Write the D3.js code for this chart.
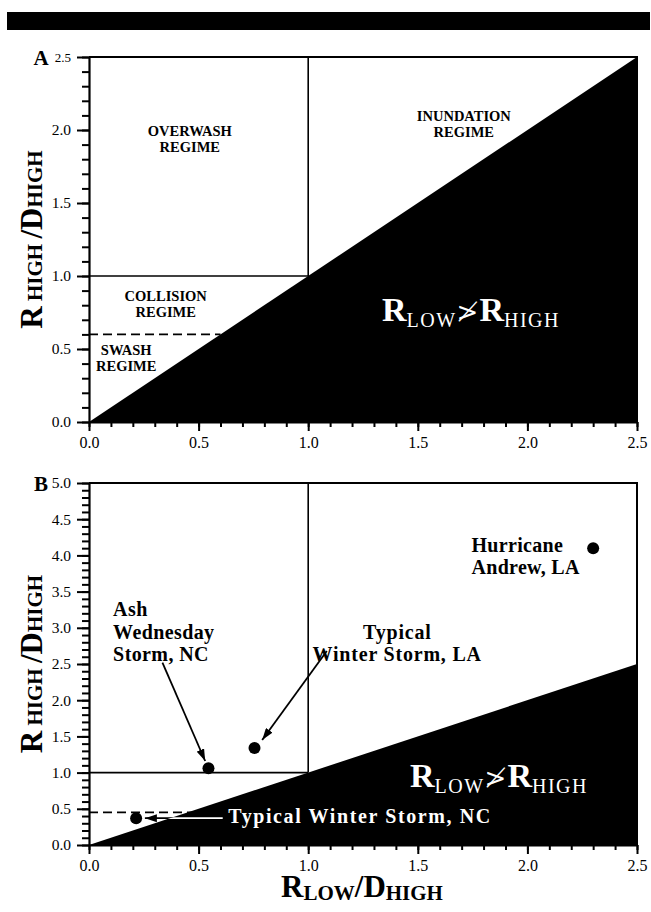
<!DOCTYPE html>
<html><head><meta charset="utf-8">
<script src="https://cdn.jsdelivr.net/npm/d3@7"></script>
<style>body{margin:0;background:#fff} svg{display:block} text{font-family:"Liberation Serif","Times New Roman",serif}</style>
</head><body><svg id="c" width="651" height="912"></svg>
<script>
// ---------- data ----------
const xTickValues = [0.0, 0.5, 1.0, 1.5, 2.0, 2.5];
const yTickValuesA = [0.0, 0.5, 1.0, 1.5, 2.0, 2.5];
const yTickValuesB = [0.0, 0.5, 1.0, 1.5, 2.0, 2.5, 3.0, 3.5, 4.0, 4.5, 5.0];
const xDomain = [0, 2.5];
const yDomainA = [0, 2.5];
const yDomainB = [0, 5];
const noOverlapRegion = [[0, 0], [2.5, 0], [2.5, 2.5]];
const collisionTop = [[0, 1], [1, 1]];
const overwashSplitA = [[1, 1], [1, 2.5]];
const overwashSplitB = [[1, 1], [1, 5]];
const swashTopA = [[0, 0.6], [0.6, 0.6]];
const swashTopB = [[0, 0.45], [0.47, 0.45]];
const regimeNames = [["OVERWASH", "REGIME"], ["INUNDATION", "REGIME"], ["COLLISION", "REGIME"], ["SWASH", "REGIME"]];
const stormNames = [["Hurricane", "Andrew, LA"], ["Typical", "Winter Storm, LA"], ["Ash", "Wednesday", "Storm, NC"], ["Typical Winter Storm, NC"]];
const stormX = [2.30, 0.755, 0.545, 0.215];
const stormY = [4.10, 1.34, 1.06, 0.37];

// ---------- layout (not data) ----------
const X0 = 89, X1 = 637;
const panelA = {top: 57, bottom: 422};
const panelB = {top: 483, bottom: 845};
const regimeLayout = [
  {x: 0.46, y: 1.96, anchor: "middle"},
  {x: 1.71, y: 2.06, anchor: "middle"},
  {x: 0.35, y: 0.83, anchor: "middle"},
  {x: 0.17, y: 0.46, anchor: "middle"}
];
const stormLayout = [
  {x: 1.745, y: 4.05, anchor: "start", color: "#000", ls: 0.3, arrow: null},
  {x: 1.02, y: 2.85, anchor: "start", color: "#000", ls: 0.8, arrow: [[1.085, 2.68], [0.79, 1.45]], dx: [0.23, 0]},
  {x: 0.11, y: 3.16, anchor: "start", color: "#000", ls: 0.4, arrow: [[0.335, 2.52], [0.53, 1.16]]},
  {x: 0.635, y: 0.305, anchor: "start", color: "#fff", ls: 1.6, arrow: [[0.61, 0.37], [0.255, 0.37]]}
];

const svg = d3.select("#c");
const x = d3.scaleLinear().domain(xDomain).range([X0, X1]);

svg.append("rect").attr("x", 7).attr("y", 12).attr("width", 643).attr("height", 18).attr("fill", "#000");

const defs = svg.append("defs");
defs.append("marker").attr("id", "ahB").attr("viewBox", "0 0 12 8").attr("refX", 12).attr("refY", 4)
  .attr("markerWidth", 12).attr("markerHeight", 8).attr("markerUnits", "userSpaceOnUse").attr("orient", "auto")
  .append("path").attr("d", "M0,0 L12,4 L0,8 Z").attr("fill", "#000");

function drawPanel(p, yDomain, yTicks, label, split, swash, minorY, id) {
  const y = d3.scaleLinear().domain(yDomain).range([p.bottom, p.top]);
  const g = svg.append("g");
  const line = d3.line().x(d => x(d[0])).y(d => y(d[1]));

  g.append("path").attr("d", line(noOverlapRegion) + "Z").attr("fill", "#000");
  defs.append("clipPath").attr("id", "clip" + id).append("path").attr("d", line(noOverlapRegion) + "Z");

  g.append("path").attr("d", line([[0, yDomain[1]], [2.5, yDomain[1]], [2.5, 0]]))
    .attr("fill", "none").attr("stroke", "#000").attr("stroke-width", 2);

  g.append("path").attr("d", line(collisionTop)).attr("stroke", "#000").attr("stroke-width", 1.6).attr("fill", "none");
  g.append("path").attr("d", line(split)).attr("stroke", "#000").attr("stroke-width", 1.6).attr("fill", "none");
  g.append("path").attr("d", line(swash)).attr("stroke", "#000").attr("stroke-width", 1.8)
    .attr("stroke-dasharray", "9,5").attr("fill", "none");

  const minorX = d3.range(0, 2.5001, 0.1);
  g.append("g").attr("transform", `translate(0,${p.bottom})`)
    .call(d3.axisBottom(x).tickValues(minorX).tickSize(5).tickFormat(""))
    .call(a => a.select(".domain").remove())
    .call(a => a.selectAll("line").attr("stroke-width", 2));
  g.append("g").attr("transform", `translate(${X0},0)`)
    .call(d3.axisLeft(y).tickValues(minorY).tickSize(7).tickFormat(""))
    .call(a => a.select(".domain").remove())
    .call(a => a.selectAll("line").attr("stroke-width", 2));

  const xa = g.append("g").attr("transform", `translate(0,${p.bottom})`)
    .call(d3.axisBottom(x).tickValues(xTickValues).tickSize(9).tickPadding(6).tickSizeOuter(0).tickFormat(d3.format(".1f")));
  xa.select(".domain").attr("stroke-width", 2.2);
  xa.selectAll("line").attr("stroke-width", 2);
  xa.selectAll("text").attr("font-size", 16).attr("font-family", "Liberation Serif").attr("fill", "#000");

  const ya = g.append("g").attr("transform", `translate(${X0},0)`)
    .call(d3.axisLeft(y).tickValues(yTicks).tickSize(12).tickPadding(6).tickSizeOuter(0).tickFormat(d3.format(".1f")));
  ya.select(".domain").attr("stroke-width", 2.2);
  ya.selectAll("line").attr("stroke-width", 2);
  ya.selectAll("text").attr("font-size", 15.5).attr("font-family", "Liberation Serif").attr("fill", "#000");

  svg.append("text").attr("x", 41).attr("y", p.top + 8).attr("font-size", 21).attr("font-weight", "bold")
    .attr("text-anchor", "middle").text(label);

  const cy = (p.top + p.bottom) / 2;
  const yt = svg.append("text").attr("transform", `translate(42,${cy}) rotate(-90)`).attr("text-anchor", "middle")
    .attr("font-weight", "bold").attr("fill", "#000");
  yt.append("tspan").attr("font-size", 31).text("R");
  yt.append("tspan").attr("font-size", 21).text(" HIGH ");
  yt.append("tspan").attr("font-size", 31).text("/D");
  yt.append("tspan").attr("font-size", 21).text("HIGH");

  return {g, y, ya};
}

// ---------- Panel A ----------
const A = drawPanel(panelA, yDomainA, yTickValuesA, "A", overwashSplitA, swashTopA, d3.range(0, 2.5001, 0.1), "A");
A.ya.selectAll(".tick text").filter(d => d === 2.5).attr("font-size", 13);
regimeNames.forEach((lines, i) => {
  const L = regimeLayout[i];
  const t = A.g.append("text").attr("x", x(L.x)).attr("y", A.y(L.y)).attr("text-anchor", L.anchor)
    .attr("font-size", 14.5).attr("font-weight", "bold");
  lines.forEach((s, j) => t.append("tspan").attr("x", x(L.x)).attr("dy", j ? 16 : 0).text(s));
});
function inequality(g, px, py) {
  const t = g.append("text").attr("x", px).attr("y", py).attr("fill", "#fff").attr("font-weight", "bold");
  t.append("tspan").attr("font-size", 34).text("R");
  t.append("tspan").attr("font-size", 20).attr("font-weight", "normal").attr("letter-spacing", 1.5).attr("dy", 6).text("LOW");
  t.append("tspan").attr("font-size", 26).attr("font-weight", "normal").attr("font-family", "DejaVu Serif").attr("dy", -6).text("\u226F");
  t.append("tspan").attr("font-size", 34).attr("dx", 1).text("R");
  t.append("tspan").attr("font-size", 20).attr("font-weight", "normal").attr("letter-spacing", 1.5).attr("dy", 6).text("HIGH");
}
inequality(A.g, 382, 321);

// ---------- Panel B ----------
const B = drawPanel(panelB, yDomainB, yTickValuesB, "B", overwashSplitB, swashTopB, d3.range(0, 5.0001, 0.1), "B");
inequality(B.g, 410, 787);

stormNames.forEach((lines, i) => {
  const L = stormLayout[i];
  if (L.arrow) {
    const ln = d3.line().x(d => x(d[0])).y(d => B.y(d[1]));
    B.g.append("path").attr("d", ln(L.arrow)).attr("stroke", "#000").attr("stroke-width", 1.8)
      .attr("fill", "none").attr("marker-end", "url(#ahB)");
    if (L.color === "#fff") {
      B.g.append("path").attr("d", ln(L.arrow)).attr("stroke", "#fff").attr("stroke-width", 1.8)
        .attr("fill", "none").attr("clip-path", "url(#clipB)");
    }
  }
  const t = B.g.append("text").attr("x", x(L.x)).attr("y", B.y(L.y)).attr("text-anchor", L.anchor)
    .attr("font-size", 20).attr("font-weight", "bold").attr("fill", L.color).attr("letter-spacing", L.ls);
  lines.forEach((s, j) => t.append("tspan").attr("x", x(L.x + (L.dx ? L.dx[j] : 0))).attr("dy", j ? 22.5 : 0).text(s));
  B.g.append("circle").attr("cx", x(stormX[i])).attr("cy", B.y(stormY[i])).attr("r", 6).attr("fill", "#000");
});

const xt = svg.append("text").attr("x", 362).attr("y", 897).attr("text-anchor", "middle").attr("font-weight", "bold");
xt.append("tspan").attr("font-size", 31).text("R");
xt.append("tspan").attr("font-size", 21).attr("dy", 3).text("LOW");
xt.append("tspan").attr("font-size", 31).attr("dy", -3).text("/D");
xt.append("tspan").attr("font-size", 21).attr("dy", 3).text("HIGH");
</script></body></html>
